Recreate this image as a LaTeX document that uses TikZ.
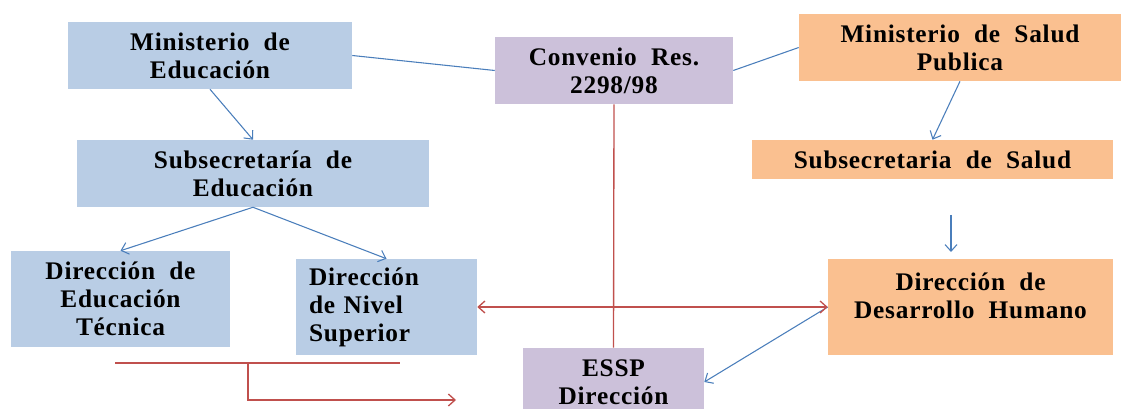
\documentclass[tikz,border=0pt]{standalone}
\usepackage{fontspec}
\setmainfont{Liberation Serif}[BoldFont={Liberation Serif Bold}, LetterSpace=3, WordSpace=2]
\usetikzlibrary{arrows.meta}
\definecolor{edublue}{HTML}{B9CDE5}
\definecolor{conlila}{HTML}{CCC1DA}
\definecolor{salnaranja}{HTML}{FAC090}
\definecolor{lineblue}{HTML}{4A7EBB}
\definecolor{linered}{HTML}{C0504D}

\begin{document}
\begin{tikzpicture}[
    x=0.75pt, y=-0.75pt,
    caja/.style={rectangle, inner sep=0pt, align=center,
        font=\fontsize{19}{21}\selectfont\bfseries},
    edu/.style={caja, fill=edublue},
    conv/.style={caja, fill=conlila},
    sal/.style={caja, fill=salnaranja},
    flecha/.style={-{Straight Barb[length=5pt, width=9pt]}},
    azul/.style={draw=lineblue, line width=0.8pt},
    rojo/.style={draw=linered, line width=1pt}
]
    \useasboundingbox (0,0) rectangle (1121,409);
    \clip (0,0) rectangle (1121,409);

    % cajas de Educacion
    \node[edu, minimum width=213pt, minimum height=50.25pt] (minedu) at (210,55.5) {Ministerio de\\Educación};
    \node[edu, minimum width=264pt, minimum height=50.25pt] (subedu) at (253,173.5) {Subsecretaría de\\Educación};
    \node[edu, minimum width=164.25pt, minimum height=72pt] (dirtec) at (120.5,299) {Dirección de\\Educación\\Técnica};
    \node[edu, minimum width=135.75pt, minimum height=72pt, text width=116pt, align=left] (dirsup) at (386.5,307) {Dirección\\de Nivel\\Superior};

    % convenio y ESSP
    \node[conv, minimum width=178.5pt, minimum height=50.25pt] (conv) at (614,70.5) {Convenio Res.\\2298/98};
    \node[conv, minimum width=135.75pt, minimum height=51pt] (essp) at (613.5,382) {ESSP\\Dirección};

    % cajas de Salud
    \node[sal, minimum width=241.5pt, minimum height=50.25pt] (minsal) at (960,47.5) {Ministerio de Salud\\Publica};
    \node[sal, minimum width=270.75pt, minimum height=29.25pt] (subsal) at (932.5,159.5) {Subsecretaria de Salud};
    \node[sal, minimum width=213.75pt, minimum height=72pt] (dirhum) at (970.5,307) {};
    \node[caja] (dirhumtxt) at (970.5,296) {Dirección de\\Desarrollo Humano};

    % puntos sueltos
    \coordinate (f1) at (951,215);
    \coordinate (f2) at (951,252);
    \coordinate (r1) at (115,363);
    \coordinate (r2) at (400,363);
    \coordinate (r3) at (248,363);
    \coordinate (r4) at (248,400);
    \coordinate (r5) at (456,400);

    % conectores azules
    \draw[azul] (minedu.east) -- (conv.west);
    \draw[azul] (conv.east) -- (minsal.west);
    \draw[azul, flecha] (minedu.south) -- (subedu.north);
    \draw[azul, flecha] (minsal.south) -- (subsal.north);
    \draw[azul, flecha] (subedu.south) -- (dirtec.north);
    \draw[azul, flecha] (subedu.south) -- (dirsup.north);
    \draw[azul, flecha] (f1) -- (f2);
    \draw[azul, flecha] (dirhum.west) -- (essp.east);

    % conectores rojos
    \draw[rojo, {Straight Barb[length=5pt, width=9pt]}-{Straight Barb[length=5pt, width=9pt]}] (dirsup.east) -- (dirhum.west);
    \draw[rojo] (conv.south) -- (essp.north);
    \draw[rojo] (r1) -- (r2);
    \draw[rojo, flecha] (r3) -- (r4) -- (r5);

\end{tikzpicture}
\end{document}
